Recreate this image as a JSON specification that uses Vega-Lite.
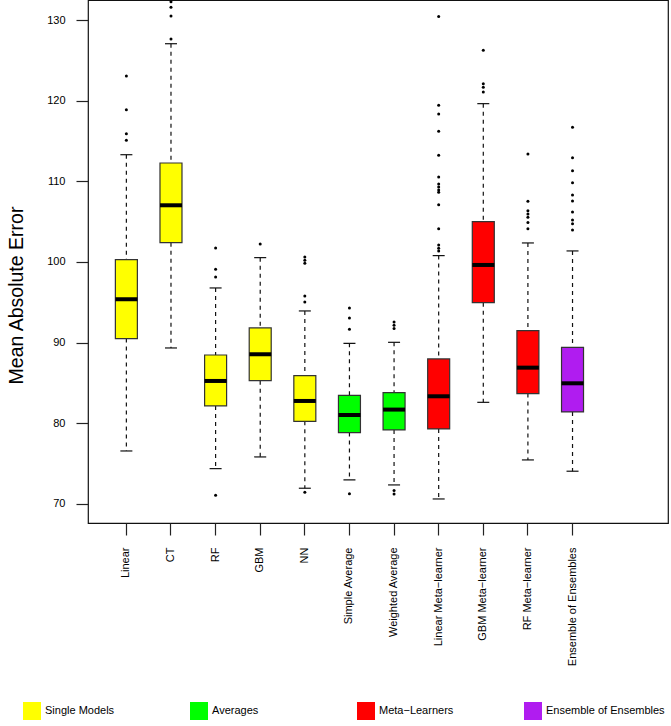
{
  "$schema": "https://vega.github.io/schema/vega-lite/v6.json",
  "width": 580,
  "height": 523,
  "autosize": {"type": "none"},
  "padding": {"top": 0, "left": 88, "right": 3, "bottom": 203},
  "background": "white",
  "config": {
    "view": {"stroke": "#111", "strokeWidth": 1.2},
    "font": "Liberation Sans",
    "axis": {
      "labelFont": "Liberation Sans",
      "labelFontSize": 11,
      "labelColor": "black",
      "tickColor": "#222",
      "tickSize": 12,
      "tickWidth": 1.2,
      "domain": false,
      "grid": false
    },
    "legend": {
      "labelFont": "Liberation Sans",
      "labelFontSize": 11,
      "labelColor": "black"
    }
  },
  "datasets": {
    "boxes": [
      {"model": "Linear", "group": "Single Models", "lower": 76.57, "q1": 90.5, "median": 95.38, "q3": 100.3, "upper": 113.3},
      {"model": "CT", "group": "Single Models", "lower": 89.34, "q1": 102.4, "median": 107.03, "q3": 112.27, "upper": 127.06},
      {"model": "RF", "group": "Single Models", "lower": 74.38, "q1": 82.15, "median": 85.25, "q3": 88.47, "upper": 96.78},
      {"model": "GBM", "group": "Single Models", "lower": 75.83, "q1": 85.29, "median": 88.56, "q3": 91.82, "upper": 100.54},
      {"model": "NN", "group": "Single Models", "lower": 71.95, "q1": 80.25, "median": 82.77, "q3": 85.91, "upper": 93.93},
      {"model": "Simple Average", "group": "Averages", "lower": 72.98, "q1": 78.85, "median": 81.04, "q3": 83.47, "upper": 89.92},
      {"model": "Weighted Average", "group": "Averages", "lower": 72.36, "q1": 79.18, "median": 81.7, "q3": 83.81, "upper": 90.04},
      {"model": "Linear Meta\u2212learner", "group": "Meta\u2212Learners", "lower": 70.62, "q1": 79.3, "median": 83.35, "q3": 87.98, "upper": 100.79},
      {"model": "GBM Meta\u2212learner", "group": "Meta\u2212Learners", "lower": 82.6, "q1": 94.96, "median": 99.63, "q3": 105.0, "upper": 119.63},
      {"model": "RF Meta\u2212learner", "group": "Meta\u2212Learners", "lower": 75.46, "q1": 83.68, "median": 86.9, "q3": 91.49, "upper": 102.36},
      {"model": "Ensemble of Ensembles", "group": "Ensemble of Ensembles", "lower": 74.06, "q1": 81.41, "median": 84.96, "q3": 89.42, "upper": 101.37}
    ],
    "outliers": [
      {"model": "Linear", "value": 123.06},
      {"model": "Linear", "value": 118.88},
      {"model": "Linear", "value": 115.9},
      {"model": "Linear", "value": 115.09},
      {"model": "CT", "value": 127.64},
      {"model": "CT", "value": 130.5},
      {"model": "CT", "value": 131.57},
      {"model": "CT", "value": 132.27},
      {"model": "RF", "value": 101.74},
      {"model": "RF", "value": 99.1},
      {"model": "RF", "value": 98.14},
      {"model": "RF", "value": 71.08},
      {"model": "GBM", "value": 102.23},
      {"model": "NN", "value": 100.62},
      {"model": "NN", "value": 100.2},
      {"model": "NN", "value": 99.84},
      {"model": "NN", "value": 95.79},
      {"model": "NN", "value": 95.04},
      {"model": "NN", "value": 71.45},
      {"model": "Simple Average", "value": 94.3},
      {"model": "Simple Average", "value": 93.06},
      {"model": "Simple Average", "value": 91.66},
      {"model": "Simple Average", "value": 71.28},
      {"model": "Weighted Average", "value": 92.56},
      {"model": "Weighted Average", "value": 92.15},
      {"model": "Weighted Average", "value": 91.74},
      {"model": "Weighted Average", "value": 71.66},
      {"model": "Weighted Average", "value": 71.24},
      {"model": "Linear Meta\u2212learner", "value": 130.42},
      {"model": "Linear Meta\u2212learner", "value": 119.42},
      {"model": "Linear Meta\u2212learner", "value": 118.35},
      {"model": "Linear Meta\u2212learner", "value": 116.2},
      {"model": "Linear Meta\u2212learner", "value": 113.23},
      {"model": "Linear Meta\u2212learner", "value": 110.54},
      {"model": "Linear Meta\u2212learner", "value": 109.67},
      {"model": "Linear Meta\u2212learner", "value": 109.3},
      {"model": "Linear Meta\u2212learner", "value": 108.93},
      {"model": "Linear Meta\u2212learner", "value": 108.64},
      {"model": "Linear Meta\u2212learner", "value": 107.1},
      {"model": "Linear Meta\u2212learner", "value": 104.13},
      {"model": "Linear Meta\u2212learner", "value": 102.1},
      {"model": "Linear Meta\u2212learner", "value": 101.7},
      {"model": "Linear Meta\u2212learner", "value": 101.37},
      {"model": "GBM Meta\u2212learner", "value": 126.24},
      {"model": "GBM Meta\u2212learner", "value": 122.1},
      {"model": "GBM Meta\u2212learner", "value": 121.66},
      {"model": "GBM Meta\u2212learner", "value": 121.07},
      {"model": "RF Meta\u2212learner", "value": 113.39},
      {"model": "RF Meta\u2212learner", "value": 107.52},
      {"model": "RF Meta\u2212learner", "value": 106.36},
      {"model": "RF Meta\u2212learner", "value": 105.95},
      {"model": "RF Meta\u2212learner", "value": 105.54},
      {"model": "RF Meta\u2212learner", "value": 104.88},
      {"model": "RF Meta\u2212learner", "value": 104.13},
      {"model": "Ensemble of Ensembles", "value": 116.7},
      {"model": "Ensemble of Ensembles", "value": 112.93},
      {"model": "Ensemble of Ensembles", "value": 111.32},
      {"model": "Ensemble of Ensembles", "value": 109.83},
      {"model": "Ensemble of Ensembles", "value": 108.31},
      {"model": "Ensemble of Ensembles", "value": 107.56},
      {"model": "Ensemble of Ensembles", "value": 106.2},
      {"model": "Ensemble of Ensembles", "value": 105.21},
      {"model": "Ensemble of Ensembles", "value": 104.75},
      {"model": "Ensemble of Ensembles", "value": 103.97}
    ]
  },
  "encoding": {
    "x": {
      "field": "model",
      "type": "nominal",
      "title": null,
      "scale": {
        "type": "band",
        "domain": ["Linear", "CT", "RF", "GBM", "NN", "Simple Average", "Weighted Average", "Linear Meta\u2212learner", "GBM Meta\u2212learner", "RF Meta\u2212learner", "Ensemble of Ensembles"],
        "paddingInner": 0,
        "paddingOuter": 1.2,
        "align": 0.18
      },
      "axis": {"labelAngle": -90, "labelPadding": 12, "labelLimit": 200}
    }
  },
  "layer": [
    {
      "data": {"name": "boxes"},
      "mark": {"type": "rule", "strokeDash": [4, 4], "strokeWidth": 1.2, "color": "#111", "opacity": 1},
      "encoding": {
        "y": {
          "field": "upper",
          "type": "quantitative",
          "scale": {"domain": [67.64, 132.48], "nice": false, "zero": false},
          "axis": {
            "values": [70, 80, 90, 100, 110, 120, 130],
            "labelPadding": 11,
            "title": "Mean Absolute Error",
            "titleFont": "Liberation Sans",
            "titleFontSize": 19.5,
            "titleFontWeight": "normal",
            "titleColor": "black",
            "titleAngle": -90,
            "titleBaseline": "alphabetic",
            "titleAlign": "center",
            "titleX": -66,
            "titleY": 295
          }
        },
        "y2": {"field": "q3"}
      }
    },
    {
      "data": {"name": "boxes"},
      "mark": {"type": "rule", "strokeDash": [4, 4], "strokeWidth": 1.2, "color": "#111", "opacity": 1},
      "encoding": {
        "y": {"field": "q1", "type": "quantitative"},
        "y2": {"field": "lower"}
      }
    },
    {
      "data": {"name": "boxes"},
      "mark": {"type": "tick", "orient": "horizontal", "size": 12, "thickness": 1.2, "color": "#111", "opacity": 1},
      "encoding": {"y": {"field": "upper", "type": "quantitative"}}
    },
    {
      "data": {"name": "boxes"},
      "mark": {"type": "tick", "orient": "horizontal", "size": 12, "thickness": 1.2, "color": "#111", "opacity": 1},
      "encoding": {"y": {"field": "lower", "type": "quantitative"}}
    },
    {
      "data": {"name": "boxes"},
      "mark": {"type": "bar", "size": 22, "stroke": "#333", "strokeWidth": 1.2, "opacity": 1},
      "encoding": {
        "y": {"field": "q1", "type": "quantitative"},
        "y2": {"field": "q3"},
        "fill": {
          "field": "group",
          "type": "nominal",
          "scale": {
            "domain": ["Single Models", "Averages", "Meta\u2212Learners", "Ensemble of Ensembles"],
            "range": ["#FFFF00", "#00FF00", "#FF0000", "#B01CF0"]
          },
          "legend": {
            "title": null,
            "orient": "none",
            "direction": "horizontal",
            "columns": 4,
            "gridAlign": "all",
            "columnPadding": 26,
            "legendX": -65,
            "legendY": 702,
            "padding": 0,
            "symbolType": "square",
            "symbolSize": 324,
            "symbolStrokeWidth": 0,
            "symbolOpacity": 1,
            "labelOffset": 4
          }
        }
      }
    },
    {
      "data": {"name": "boxes"},
      "mark": {"type": "tick", "orient": "horizontal", "size": 22, "thickness": 4, "color": "black", "opacity": 1},
      "encoding": {"y": {"field": "median", "type": "quantitative"}}
    },
    {
      "data": {"name": "outliers"},
      "mark": {"type": "circle", "size": 9, "color": "black", "opacity": 1},
      "encoding": {"y": {"field": "value", "type": "quantitative"}}
    }
  ]
}
